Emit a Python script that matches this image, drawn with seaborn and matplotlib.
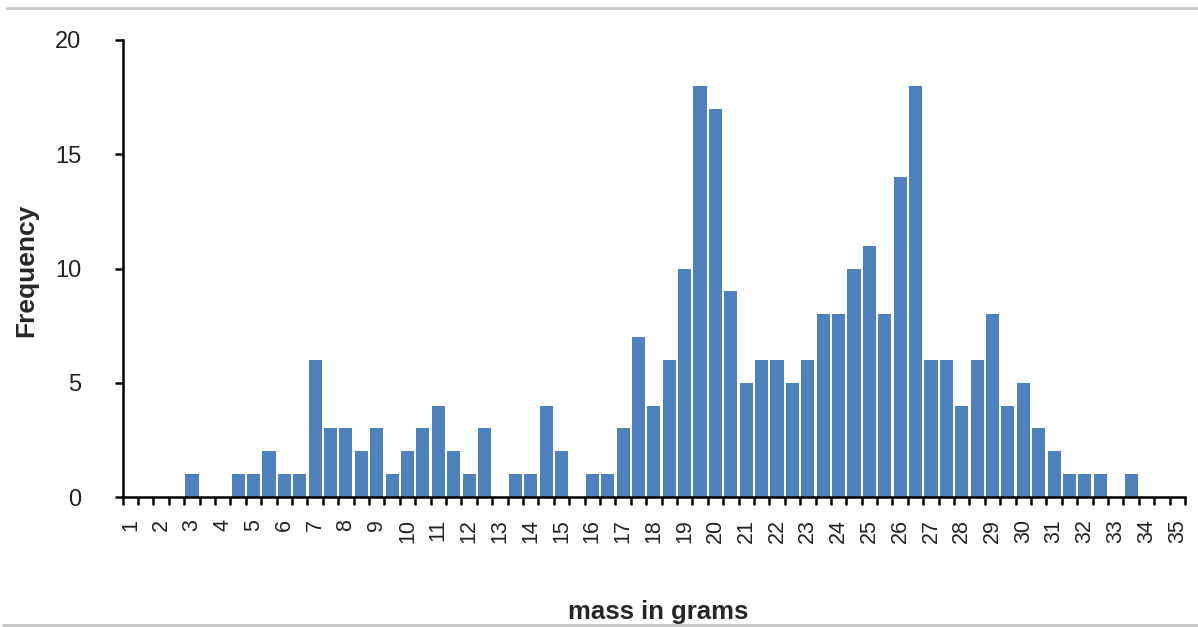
import matplotlib
matplotlib.use("Agg")
import matplotlib.pyplot as plt
from matplotlib.lines import Line2D
import seaborn as sns
import pandas as pd

mass_bins = [1, 1.5, 2, 2.5, 3, 3.5, 4, 4.5, 5, 5.5, 6, 6.5, 7, 7.5, 8, 8.5,
             9, 9.5, 10, 10.5, 11, 11.5, 12, 12.5, 13, 13.5, 14, 14.5, 15, 15.5,
             16, 16.5, 17, 17.5, 18, 18.5, 19, 19.5, 20, 20.5, 21, 21.5, 22, 22.5,
             23, 23.5, 24, 24.5, 25, 25.5, 26, 26.5, 27, 27.5, 28, 28.5, 29, 29.5,
             30, 30.5, 31, 31.5, 32, 32.5, 33, 33.5, 34, 34.5, 35]
frequency = [0, 0, 0, 0, 1, 0, 0, 1, 1, 2, 1, 1, 6, 3, 3, 2,
             3, 1, 2, 3, 4, 2, 1, 3, 0, 1, 1, 4, 2, 0,
             1, 1, 3, 7, 4, 6, 10, 18, 17, 9, 5, 6, 6, 5,
             6, 8, 8, 10, 11, 8, 14, 18, 6, 6, 4, 6, 8, 4,
             5, 3, 2, 1, 1, 1, 0, 1, 0, 0, 0]
x_tick_labels = [str(i) for i in range(1, 36)]
y_ticks = [0, 5, 10, 15, 20]

sns.set_theme(style="white")
plt.rcParams['font.family'] = ['Liberation Sans', 'DejaVu Sans']

df = pd.DataFrame({"bin": [str(b) for b in mass_bins], "freq": frequency})

W, H = 1198, 627
fig = plt.figure(figsize=(W / 100, H / 100), dpi=100)
ax_left, ax_right, ax_top, ax_bottom = 122.7, 1185, 40, 497
ax_w, ax_h = ax_right - ax_left, ax_bottom - ax_top
ax = fig.add_axes([ax_left / W, (H - ax_bottom) / H, ax_w / W, ax_h / H])

sns.barplot(data=df, x="bin", y="freq", order=list(df["bin"]), color="#4F81BD",
            saturation=1, width=0.85, edgecolor="none", ax=ax)

n = len(mass_bins)
ax.set_xlim(-0.5, n - 0.5)
ax.set_ylim(0, 20)

# major ticks: labels every other category (integers); minor ticks: category edges
ax.set_xticks(list(range(0, n, 2)))
ax.set_xticklabels(x_tick_labels, rotation=90, fontsize=15.5, color="#222222")
ax.set_xticks([i - 0.5 for i in range(n + 1)], minor=True)
ax.tick_params(axis="x", which="major", length=0, pad=16)
ax.tick_params(axis="x", which="minor", length=6, width=1.8, color="black",
               direction="out", bottom=True)

ax.set_yticks(y_ticks)
ax.set_yticklabels([str(t) for t in y_ticks], fontsize=17, color="#222222")
ax.tick_params(axis="y", which="major", length=6, width=1.8, color="black",
               direction="out", left=True, pad=24)

for side in ["top", "right"]:
    ax.spines[side].set_visible(False)
for side in ["left", "bottom"]:
    ax.spines[side].set_color("black")
    ax.spines[side].set_linewidth(1.8)

ax.set_xlabel("mass in grams", fontsize=18.5, fontweight="bold")
ax.xaxis.set_label_coords((658 - ax_left) / ax_w, -(600 - ax_bottom) / ax_h)
ax.set_ylabel("Frequency", fontsize=19, fontweight="bold")
ax.yaxis.set_label_coords(-(ax_left - 38) / ax_w, (ax_bottom - 270) / ax_h)

# screenshot frame rules
fig.add_artist(Line2D([7 / W, 1.0], [1 - 7.5 / H, 1 - 7.5 / H],
                      transform=fig.transFigure, color="#C4C4C4", linewidth=2))
fig.add_artist(Line2D([3 / W, 1.0], [1 - 624.5 / H, 1 - 624.5 / H],
                      transform=fig.transFigure, color="#C4C4C4", linewidth=2))

fig.savefig("out.png", dpi=100)
